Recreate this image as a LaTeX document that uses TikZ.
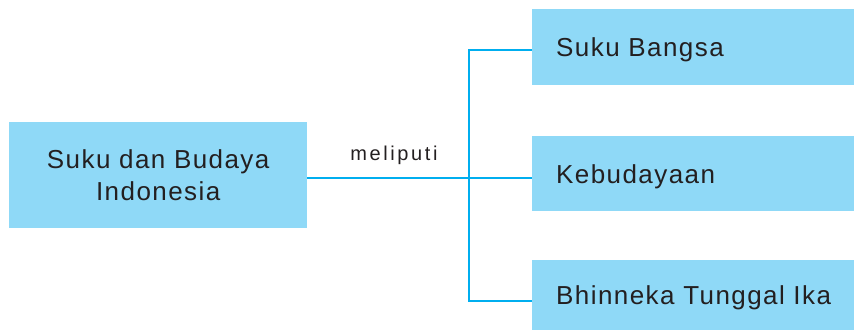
\documentclass[tikz,border=0pt]{standalone}
\usepackage{fontspec}
\setmainfont{Liberation Sans}[LetterSpace=5.5]
\newfontfamily\labelfont{Liberation Sans}[LetterSpace=13]
\definecolor{boxblue}{HTML}{8FD9F7}
\definecolor{linkblue}{HTML}{00AEEF}
\definecolor{ink}{HTML}{231F20}

\begin{document}
\begin{tikzpicture}[x=1pt,y=-1pt,
    box/.style={fill=boxblue,inner sep=0pt,text=ink,
      font=\fontsize{26}{32}\selectfont},
    item/.style={box,anchor=north west,inner xsep=24pt,
      text width=300pt,align=left,text height=18.6pt,text depth=0pt},
    link/.style={draw=linkblue,line width=2.8pt}]
  \useasboundingbox (0,0) rectangle (854,330);
  \node[box,anchor=north west,minimum width=298pt,minimum height=106pt,
    align=center] (main) at (9,122) {Suku dan Budaya\\Indonesia};
  \node[item,minimum height=76pt] (suku) at (532,9) {Suku Bangsa};
  \node[item,minimum height=75pt] (budaya) at (532,136) {Kebudayaan};
  \node[item,minimum height=70pt] (bhinneka) at (532,260) {Bhinneka Tunggal Ika};
  \coordinate (split) at (469,178);
  \coordinate (top) at (469,50);
  \coordinate (bottom) at (469,301);
  \begin{scope}[link]
    \draw (split -| main.east) to (split -| budaya.west);
    \draw (top -| suku.west) -- (top) -- (bottom) -- (bottom -| bhinneka.west);
  \end{scope}
  \node[text=ink,font=\labelfont\fontsize{20}{24}\selectfont,anchor=base]
    (meliputi) at (394,160) {meliputi};
\end{tikzpicture}
\end{document}
